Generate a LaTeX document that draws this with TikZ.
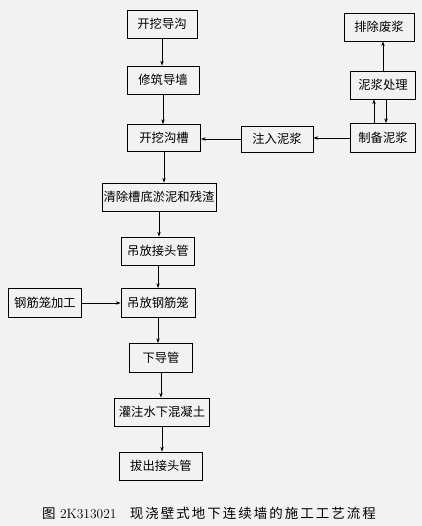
\documentclass[tikz,border=0pt]{standalone}
\usepackage{fontspec}
\usepackage{tikz}
\usetikzlibrary{arrows.meta}
\newfontfamily\cjk{Noto Sans CJK SC}
\newfontfamily\cjkcap[LetterSpace=15]{Noto Sans CJK SC}
\definecolor{pagegray}{RGB}{242, 242, 242}

\begin{document}
\begin{tikzpicture}[x=0.03cm, y=-0.03cm,
    box/.style={draw, line width=0.8pt, inner sep=1pt, minimum height=0.84cm,
                font=\cjk\fontsize{10.5}{12}\selectfont},
    flow/.style={-{Stealth[length=4pt, width=3pt]}, line width=0.6pt}]
    % Fondo
    \fill[pagegray] (0,0) rectangle (422,526);
    \useasboundingbox (0,0) rectangle (422,526);

    % Cadena principal
    \node[box, minimum width=2.10cm] (daogou)   at (162,24)  {开挖导沟};
    \node[box, minimum width=2.16cm] (daoqiang) at (163,80)  {修筑导墙};
    \node[box, minimum width=2.19cm, minimum height=0.81cm] (gouchao) at (164,138) {开挖沟槽};
    \node[box, minimum width=3.42cm] (qingchu)  at (159,197) {清除槽底淤泥和残渣};
    \node[box, minimum width=2.19cm] (jietou)   at (158,251) {吊放接头管};
    \node[box, minimum width=2.22cm, minimum height=0.87cm] (gangjin) at (158,303) {吊放钢筋笼};
    \node[box, minimum width=1.89cm, minimum height=0.87cm] (daoguan) at (161,358) {下导管};
    \node[box, minimum width=2.85cm] (guanzhu)  at (162,412) {灌注水下混凝土};
    \node[box, minimum width=2.49cm] (bachu)    at (161,466) {拔出接头管};

    % Ramas laterales
    \node[box, minimum width=2.16cm, minimum height=0.78cm] (zhuru) at (277,139) {注入泥浆};
    \node[box, minimum width=1.95cm, minimum height=0.87cm] (zhibei) at (383,138) {制备泥浆};
    \node[box, minimum width=1.95cm] (chuli)    at (383,85)  {泥浆处理};
    \node[box, minimum width=2.10cm] (paichu)   at (379,27)  {排除废浆};
    \node[box, minimum width=2.19cm, minimum height=0.87cm] (jiagong) at (45,303) {钢筋笼加工};

    % Flechas
    \draw[flow] (daogou.south)   -- (daogou.south |- daoqiang.north);
    \draw[flow] (daoqiang.south) -- (daoqiang.south |- gouchao.north);
    \draw[flow] (gouchao.south)  -- (gouchao.south |- qingchu.north);
    \draw[flow] (qingchu.south)  -- (qingchu.south |- jietou.north);
    \draw[flow] (jietou.south)   -- (jietou.south |- gangjin.north);
    \draw[flow] (gangjin.south)  -- (gangjin.south |- daoguan.north);
    \draw[flow] (daoguan.south)  -- (daoguan.south |- guanzhu.north);
    \draw[flow] (guanzhu.south)  -- (guanzhu.south |- bachu.north);

    \draw[flow] (zhibei.west) -- (zhibei.west -| zhuru.east);
    \draw[flow] (zhuru.west)  -- (zhuru.west -| gouchao.east);
    \draw[flow] ([xshift=-0.27cm]zhibei.north) -- ([xshift=-0.27cm]chuli.south);
    \draw[flow] ([xshift=0.09cm]chuli.south)   -- ([xshift=0.09cm]zhibei.north);
    \draw[flow] (chuli.north) -- (chuli.north |- paichu.south);
    \draw[flow] (jiagong.east) -- (jiagong.east -| gangjin.west);

    % Pie de figura
    \node[font=\fontsize{11.5}{13}\selectfont] (titulo) at (209,513)
        {{\cjk 图} 2K313021\quad{\cjkcap 现浇壁式地下连续墙的施工工艺流程}};
\end{tikzpicture}
\end{document}
